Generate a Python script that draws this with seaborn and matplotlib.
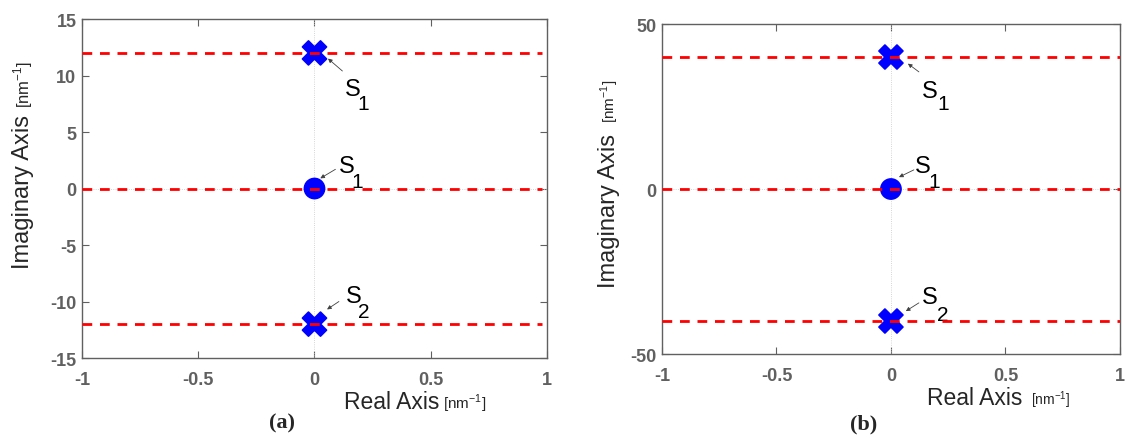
import numpy as np
import pandas as pd
import matplotlib
matplotlib.use("Agg")
import matplotlib.pyplot as plt
import seaborn as sns

# pole / zero locations of the two systems
real_a = [0.0, 0.0, 0.0]
imag_a = [12.0, 0.0, -12.0]
real_b = [0.0, 0.0, 0.0]
imag_b = [40.0, 0.0, -40.0]
kind = ["pole", "zero", "pole"]
names = ["S", "S", "S"]
subs = ["1", "1", "2"]

# asymptote (dashed) levels and their x extent
lines_a = [12.0, 0.0, -12.0]
lines_b = [40.0, 0.0, -40.0]
xspan_a = [-1.0, 0.98]
xspan_b = [-1.0, 1.0]

xticks = [-1, -0.5, 0, 0.5, 1]
xticklabels = ["-1", "-0.5", "0", "0.5", "1"]
yticks_a = [-15, -10, -5, 0, 5, 10, 15]
yticks_b = [-50, 0, 50]

sns.set_theme(style="ticks")
plt.rcParams["font.family"] = ["Liberation Sans", "DejaVu Sans"]
plt.rcParams["mathtext.fontset"] = "custom"
plt.rcParams["mathtext.rm"] = "Liberation Sans"

fig = plt.figure(figsize=(11.26, 4.39), dpi=100)
ax_a = fig.add_axes([0.0728, 0.1822, 0.413, 0.7722])
ax_b = fig.add_axes([0.5879, 0.1913, 0.4067, 0.7517])

# label layout per panel: (S text xy, subscript xy, arrow tail, arrow tip)
lab_a = [((0.166, 8.8), (0.209, 7.5), (0.12, 10.4), (0.058, 11.5)),
         ((0.14, 2.0), (0.183, 0.66), (0.09, 1.7), (0.025, 0.9)),
         ((0.17, -9.5), (0.213, -10.9), (0.105, -10.0), (0.054, -10.7))]
lab_b = [((0.17, 29.7), (0.227, 25.8), (0.122, 35.5), (0.074, 38.0)),
         ((0.14, 7.0), (0.19, 2.4), (0.1, 5.8), (0.035, 3.6)),
         ((0.17, -32.7), (0.227, -37.9), (0.122, -34.5), (0.065, -37.0))]

panels = [
    (ax_a, real_a, imag_a, lines_a, xspan_a, yticks_a, (-15, 15), lab_a,
     dict(rl=(0.768, -0.146), ul=(0.776, -0.146), yl=(-0.114, 0.265), yu=(-0.114, 0.74),
          cap=(0.43, -0.19), ufs=11), "(a)"),
    (ax_b, real_b, imag_b, lines_b, xspan_b, yticks_b, (-50, 50), lab_b,
     dict(rl=(0.788, -0.150), ul=(0.806, -0.150), yl=(-0.103, 0.203), yu=(-0.103, 0.703),
          cap=(0.44, -0.21), ufs=10), "(b)"),
]

grey = "#606060"
for ax, re, im, lv, xs, yt, ylim, labs, pos, cap in panels:
    # thin reference axes through the origin
    ax.axvline(0, color="#c8c8c8", lw=0.6, ls=":", zorder=1)
    ax.axhline(0, color="#c8c8c8", lw=0.6, ls=":", zorder=1)

    df = pd.DataFrame({"re": re, "im": im, "kind": kind})
    sns.scatterplot(data=df, x="re", y="im", style="kind", size="kind",
                    markers={"pole": "X", "zero": "o"},
                    sizes={"pole": 300, "zero": 210},
                    color="blue", edgecolor="blue", linewidth=1.2,
                    legend=False, ax=ax, zorder=3)

    ax.hlines(lv, xs[0], xs[1], colors="red", linestyles=(0, (3.5, 2.8)),
              lw=2.0, zorder=4)

    for (st, sb, tail, tip), n, s in zip(labs, names, subs):
        ax.annotate("", xy=tip, xytext=tail,
                    arrowprops=dict(arrowstyle="-|>", lw=0.6, color="#404040",
                                    mutation_scale=6, shrinkA=0, shrinkB=0))
        ax.text(st[0], st[1], n, fontsize=17, ha="center", va="center", color="black")
        ax.text(sb[0], sb[1], s, fontsize=15, ha="center", va="center", color="black")

    ax.set_xlim(-1, 1)
    ax.set_ylim(*ylim)
    ax.set_xticks(xticks)
    ax.set_xticklabels(xticklabels, fontweight="bold", fontsize=13)
    ax.set_yticks(yt)
    ax.set_yticklabels([str(v) for v in yt], fontweight="bold", fontsize=13)
    ax.set_xlabel("")
    ax.set_ylabel("")
    ax.tick_params(direction="in", length=5, width=0.8, color=grey,
                   top=True, right=True, labelcolor=grey)
    ax.tick_params(axis="x", pad=9)
    ax.tick_params(axis="y", pad=4)
    for sp in ax.spines.values():
        sp.set_color(grey)
        sp.set_linewidth(1.0)

    # axis titles: large name + small unit
    ax.text(*pos["rl"], "Real Axis", transform=ax.transAxes, fontsize=16.5,
            ha="right", va="baseline")
    ax.text(*pos["ul"], r"[nm$^{-1}$]", transform=ax.transAxes, fontsize=pos["ufs"],
            ha="left", va="baseline")
    ax.text(*pos["yl"], "Imaginary Axis", transform=ax.transAxes, fontsize=17,
            rotation=90, rotation_mode="anchor", ha="left", va="baseline")
    ax.text(*pos["yu"], r"[nm$^{-1}$]", transform=ax.transAxes, fontsize=pos["ufs"] + 1,
            rotation=90, rotation_mode="anchor", ha="left", va="baseline")
    ax.text(*pos["cap"], cap, transform=ax.transAxes, fontsize=16, fontweight="bold",
            family=["Liberation Serif", "DejaVu Serif"], ha="center", va="center")

fig.savefig("out.png", dpi=100)
